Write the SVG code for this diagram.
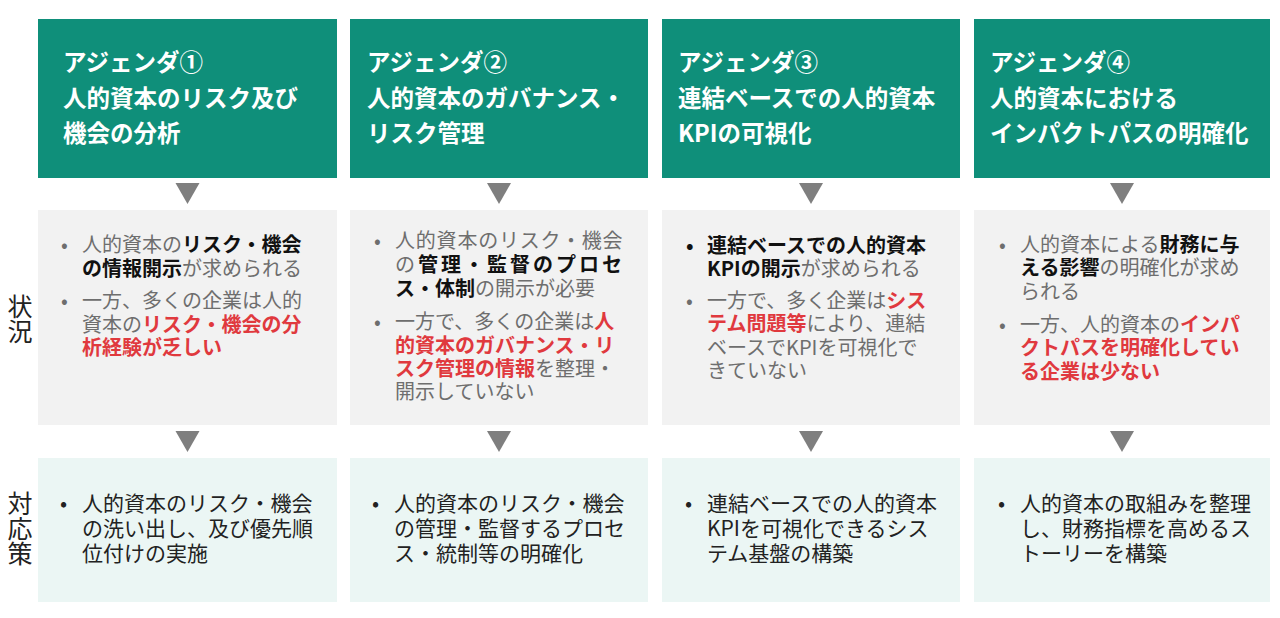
<svg xmlns="http://www.w3.org/2000/svg" xmlns:xlink="http://www.w3.org/1999/xlink" width="1280" height="618" viewBox="0 0 1280 618">
<style>
text{font-family:"Noto Sans CJK JP","Noto Sans",sans-serif;}
.hdr{fill:#0f8f7a;}
.sit{fill:#f2f2f2;}
.mea{fill:#ebf6f4;}
.ht{fill:#ffffff;font-size:23.5px;font-weight:700;}
.st{fill:#6e6e6e;font-size:20px;}
.mt{fill:#222222;font-size:21px;}
.b{fill:#111111;font-weight:700;}
.r{fill:#e0393e;font-weight:700;}
.side{fill:#222222;font-size:25px;writing-mode:vertical-rl;}
.arr{fill:#7f7f7f;}
</style>
<defs>
<polygon id="tri" points="-12,0 12,0 0,21"/>
</defs>
<rect width="1280" height="618" fill="#ffffff"/>

<g id="side-labels">
<text class="side" x="20" y="294">状況</text>
<text class="side" x="20" y="491">対応策</text>
</g>

<g id="header-1">
<rect class="hdr" x="38" y="19" width="299" height="159"/>
<text class="ht"><tspan x="63" y="71">アジェンダ①</tspan><tspan x="63" y="107">人的資本のリスク及び</tspan><tspan x="63" y="142">機会の分析</tspan></text>
</g>
<g id="header-2">
<rect class="hdr" x="350" y="19" width="298" height="159"/>
<text class="ht"><tspan x="367" y="71">アジェンダ②</tspan><tspan x="367" y="107">人的資本のガバナンス・</tspan><tspan x="367" y="142">リスク管理</tspan></text>
</g>
<g id="header-3">
<rect class="hdr" x="662" y="19" width="298" height="159"/>
<text class="ht"><tspan x="678" y="71">アジェンダ③</tspan><tspan x="678" y="107">連結ベースでの人的資本</tspan><tspan x="678" y="142">KPIの可視化</tspan></text>
</g>
<g id="header-4">
<rect class="hdr" x="974" y="19" width="296" height="159"/>
<text class="ht"><tspan x="990" y="71">アジェンダ④</tspan><tspan x="990" y="107">人的資本における</tspan><tspan x="990" y="142">インパクトパスの明確化</tspan></text>
</g>

<g id="situation-1">
<rect class="sit" x="38" y="210" width="299" height="215"/>
<text class="st"><tspan x="61" y="252">•</tspan><tspan x="82" y="252">人的資本の</tspan><tspan class="b">リスク・機会</tspan><tspan class="b" x="82" y="276">の情報開示</tspan><tspan>が求められる</tspan></text>
<text class="st"><tspan x="61" y="308">•</tspan><tspan x="82" y="308">一方、多くの企業は人的</tspan><tspan x="82" y="332">資本の</tspan><tspan class="r">リスク・機会の分</tspan><tspan class="r" x="82" y="355">析経験が乏しい</tspan></text>
</g>
<g id="situation-2">
<rect class="sit" x="350" y="210" width="298" height="215"/>
<text class="st"><tspan x="374" y="248">•</tspan><tspan x="395" y="248" dx="0 0.8 0.8 0.8 0.8 0.8 0.8 0.8 0.8 0.8 0.8">人的資本のリスク・機会</tspan><tspan x="395" y="272">の</tspan><tspan class="b" dx="3 3 3 3 3 3 3 3 3">管理・監督のプロセ</tspan><tspan class="b" x="395" y="296">ス・体制</tspan><tspan>の開示が必要</tspan></text>
<text class="st"><tspan x="374" y="329">•</tspan><tspan x="395" y="329">一方で、多くの企業は</tspan><tspan class="r">人</tspan><tspan class="r" x="395" y="353">的資本のガバナンス・リ</tspan><tspan class="r" x="395" y="376">スク管理の情報</tspan><tspan>を整理・</tspan><tspan x="395" y="399">開示していない</tspan></text>
</g>
<g id="situation-3">
<rect class="sit" x="662" y="210" width="298" height="215"/>
<text class="st"><tspan class="b" x="686" y="253">•</tspan><tspan class="b" x="707" y="253">連結ベースでの人的資本</tspan><tspan class="b" x="707" y="276">KPIの開示</tspan><tspan>が求められる</tspan></text>
<text class="st"><tspan x="686" y="308">•</tspan><tspan x="707" y="308">一方で、多く企業は</tspan><tspan class="r">シス</tspan><tspan class="r" x="707" y="331">テム問題等</tspan><tspan>により、連結</tspan><tspan x="707" y="355">ベースでKPIを可視化で</tspan><tspan x="707" y="378">きていない</tspan></text>
</g>
<g id="situation-4">
<rect class="sit" x="974" y="210" width="296" height="215"/>
<text class="st"><tspan x="999" y="252">•</tspan><tspan x="1020" y="252">人的資本による</tspan><tspan class="b">財務に与</tspan><tspan class="b" x="1020" y="275">える影響</tspan><tspan>の明確化が求め</tspan><tspan x="1020" y="299">られる</tspan></text>
<text class="st"><tspan x="999" y="332">•</tspan><tspan x="1020" y="332">一方、人的資本の</tspan><tspan class="r">インパ</tspan><tspan class="r" x="1020" y="355">クトパスを明確化してい</tspan><tspan class="r" x="1020" y="379">る企業は少ない</tspan></text>
</g>

<g id="measure-1">
<rect class="mea" x="38" y="458" width="299" height="144"/>
<text class="mt"><tspan x="60" y="511">•</tspan><tspan x="82" y="511">人的資本のリスク・機会</tspan><tspan x="82" y="536">の洗い出し、及び優先順</tspan><tspan x="82" y="561">位付けの実施</tspan></text>
</g>
<g id="measure-2">
<rect class="mea" x="350" y="458" width="298" height="144"/>
<text class="mt"><tspan x="372" y="511">•</tspan><tspan x="394" y="511">人的資本のリスク・機会</tspan><tspan x="394" y="536">の管理・監督するプロセ</tspan><tspan x="394" y="561">ス・統制等の明確化</tspan></text>
</g>
<g id="measure-3">
<rect class="mea" x="662" y="458" width="298" height="144"/>
<text class="mt"><tspan x="685" y="511">•</tspan><tspan x="707" y="511">連結ベースでの人的資本</tspan><tspan x="707" y="536">KPIを可視化できるシス</tspan><tspan x="707" y="561">テム基盤の構築</tspan></text>
</g>
<g id="measure-4">
<rect class="mea" x="974" y="458" width="296" height="144"/>
<text class="mt"><tspan x="998" y="511">•</tspan><tspan x="1020" y="511">人的資本の取組みを整理</tspan><tspan x="1020" y="536">し、財務指標を高めるス</tspan><tspan x="1020" y="561">トーリーを構築</tspan></text>
</g>

<g id="connectors">
<use class="arr" xlink:href="#tri" x="187.5" y="183"/>
<use class="arr" xlink:href="#tri" x="499" y="183"/>
<use class="arr" xlink:href="#tri" x="811" y="183"/>
<use class="arr" xlink:href="#tri" x="1122" y="183"/>
<use class="arr" xlink:href="#tri" x="187.5" y="431"/>
<use class="arr" xlink:href="#tri" x="499" y="431"/>
<use class="arr" xlink:href="#tri" x="811" y="431"/>
<use class="arr" xlink:href="#tri" x="1122" y="431"/>
</g>
</svg>
